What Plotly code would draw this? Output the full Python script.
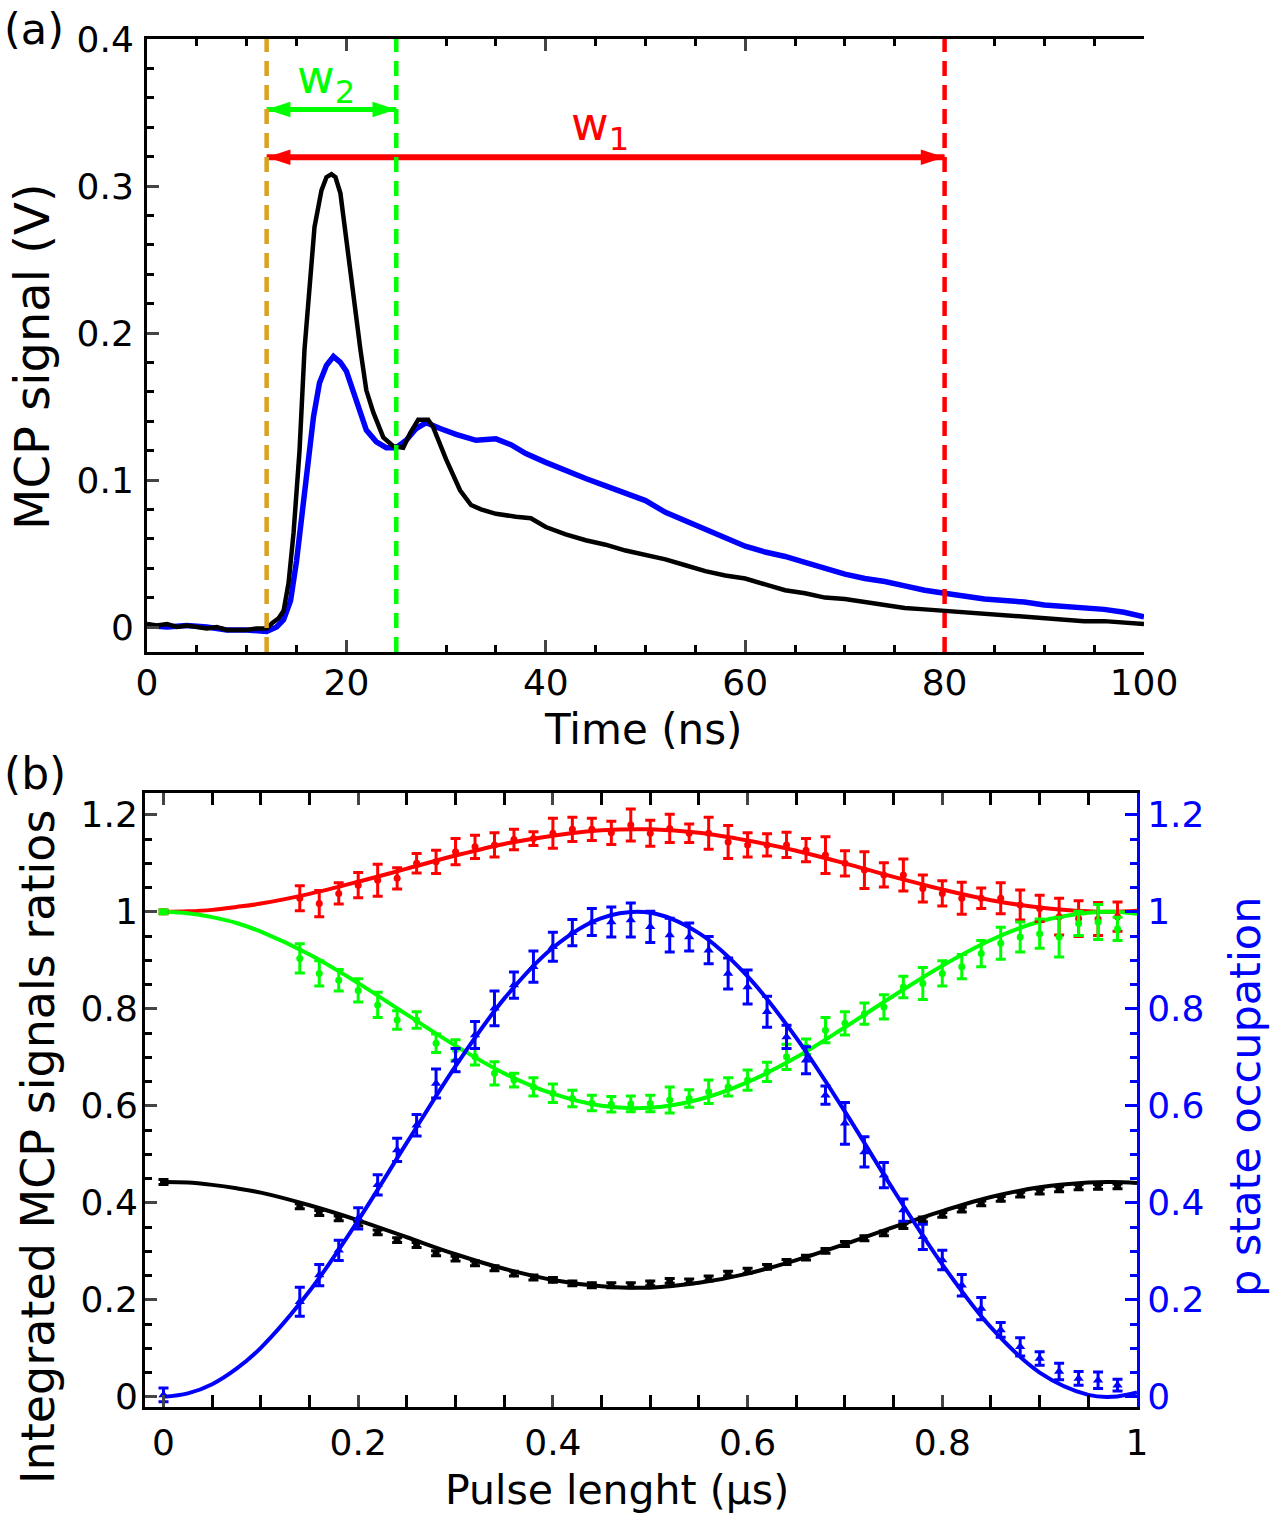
import plotly.graph_objects as go

# ---------------- Panel (a) data: MCP signal vs time ----------------
black_t = [0, 1, 2, 3, 4, 5, 6, 7, 8, 9, 10, 11, 12, 12.6, 13.2, 13.7, 14.2, 14.7, 15.3, 15.8,
           16.3, 16.8, 17.5, 18.0, 18.5, 18.9, 19.4, 19.9, 20.4, 20.9, 21.4, 22.0, 22.7, 23.7,
           24.7, 25.7, 26.4, 27.2, 28.2, 28.7, 30.0, 31.4, 32.5, 33.5, 35, 37, 38.5, 40, 42, 44,
           46, 48, 50, 52, 54, 56, 58, 60, 62, 64, 66, 68, 70, 72, 74, 76, 78, 80, 82, 84, 86,
           88, 90, 92, 94, 96, 98, 100]
black_v = [0.002, 0.001, 0.002, 0.000, 0.001, 0.000, -0.001, 0.000, -0.002, -0.002, -0.002,
           -0.001, -0.001, 0.003, 0.006, 0.011, 0.030, 0.064, 0.120, 0.189, 0.234, 0.272, 0.297,
           0.306, 0.308, 0.306, 0.295, 0.268, 0.238, 0.211, 0.189, 0.161, 0.146, 0.129, 0.123,
           0.122, 0.132, 0.141, 0.141, 0.136, 0.114, 0.093, 0.083, 0.080, 0.077, 0.075, 0.074,
           0.068, 0.063, 0.059, 0.056, 0.052, 0.049, 0.046, 0.042, 0.038, 0.035, 0.033, 0.029,
           0.025, 0.023, 0.020, 0.019, 0.017, 0.015, 0.013, 0.012, 0.011, 0.010, 0.009, 0.008,
           0.007, 0.006, 0.005, 0.004, 0.004, 0.003, 0.002]

blue_t = [0, 2, 4, 6, 8, 10, 12, 13.0, 13.7, 14.4, 15.0, 15.7, 16.2, 16.7, 17.3, 18.0, 18.7,
          19.4, 20.0, 20.7, 21.4, 22.0, 23.0, 24.0, 25.0, 26.0, 27.0, 28.0, 29.4, 31, 33, 35,
          36.5, 38, 40, 42, 44, 46, 48, 50, 52, 54, 56, 58, 60, 62, 64, 66, 68, 70, 72, 74, 76,
          78, 80, 82, 84, 86, 88, 90, 92, 94, 96, 98, 100]
blue_v = [0.001, 0.000, 0.001, 0.000, -0.002, -0.002, -0.003, 0.000, 0.005, 0.018, 0.045, 0.086,
          0.120, 0.143, 0.166, 0.178, 0.184, 0.180, 0.174, 0.159, 0.146, 0.134, 0.126, 0.122,
          0.122, 0.127, 0.135, 0.139, 0.135, 0.131, 0.127, 0.128, 0.124, 0.118, 0.112, 0.106,
          0.101, 0.096, 0.091, 0.086, 0.078, 0.072, 0.066, 0.060, 0.055, 0.051, 0.048, 0.044,
          0.040, 0.036, 0.033, 0.031, 0.028, 0.025, 0.023, 0.021, 0.019, 0.018, 0.017, 0.015,
          0.014, 0.013, 0.012, 0.010, 0.007]

gate_times = [12, 25, 80]
gate_colors = ["#DAA21E", "#00FF00", "#FF0000"]
w2_range = [12, 25]
w2_level = 0.352
w1_range = [12, 80]
w1_level = 0.3195

# ---------------- Panel (b) data: ratios vs pulse length ----------------
pulse_x = [0, 0.14, 0.16, 0.18, 0.20, 0.22, 0.24, 0.26, 0.28, 0.30, 0.32, 0.34, 0.36, 0.38,
           0.40, 0.42, 0.44, 0.46, 0.48, 0.50, 0.52, 0.54, 0.56, 0.58, 0.60, 0.62, 0.64, 0.66,
           0.68, 0.70, 0.72, 0.74, 0.76, 0.78, 0.80, 0.82, 0.84, 0.86, 0.88, 0.90, 0.92, 0.94,
           0.96, 0.98]
red_y = [1.000, 1.028, 1.017, 1.038, 1.055, 1.065, 1.069, 1.100, 1.103, 1.124, 1.134, 1.138,
         1.149, 1.151, 1.162, 1.170, 1.170, 1.163, 1.179, 1.162, 1.172, 1.162, 1.162, 1.144,
         1.138, 1.138, 1.138, 1.127, 1.117, 1.100, 1.086, 1.076, 1.076, 1.048, 1.038, 1.028,
         1.028, 1.028, 1.014, 1.007, 0.990, 0.986, 0.985, 0.990]
red_err = [0.004, 0.026, 0.027, 0.022, 0.026, 0.033, 0.022, 0.020, 0.024, 0.027, 0.024, 0.025,
           0.021, 0.014, 0.031, 0.025, 0.023, 0.024, 0.033, 0.027, 0.029, 0.019, 0.033, 0.034,
           0.025, 0.023, 0.026, 0.024, 0.038, 0.026, 0.038, 0.025, 0.033, 0.028, 0.026, 0.033,
           0.021, 0.032, 0.031, 0.027, 0.038, 0.037, 0.034, 0.030]
green_y = [1.000, 0.904, 0.873, 0.859, 0.838, 0.808, 0.777, 0.777, 0.729, 0.715, 0.701, 0.667,
           0.653, 0.639, 0.626, 0.615, 0.606, 0.603, 0.604, 0.605, 0.612, 0.615, 0.629, 0.639,
           0.653, 0.670, 0.701, 0.722, 0.756, 0.770, 0.790, 0.804, 0.845, 0.852, 0.873, 0.887,
           0.914, 0.935, 0.948, 0.955, 0.948, 0.976, 0.979, 0.965]
green_err = [0.004, 0.030, 0.026, 0.022, 0.024, 0.026, 0.019, 0.017, 0.019, 0.021, 0.017, 0.024,
             0.014, 0.019, 0.019, 0.017, 0.016, 0.016, 0.016, 0.017, 0.027, 0.018, 0.024, 0.019,
             0.021, 0.020, 0.026, 0.016, 0.026, 0.024, 0.022, 0.025, 0.022, 0.033, 0.026, 0.025,
             0.027, 0.033, 0.031, 0.030, 0.041, 0.025, 0.036, 0.024]
blue_y = [0.004, 0.196, 0.251, 0.302, 0.368, 0.437, 0.509, 0.560, 0.646, 0.694, 0.746, 0.801,
          0.849, 0.887, 0.928, 0.957, 0.979, 0.979, 0.983, 0.969, 0.952, 0.948, 0.921, 0.873,
          0.845, 0.794, 0.742, 0.694, 0.622, 0.564, 0.505, 0.457, 0.385, 0.330, 0.282, 0.230,
          0.182, 0.138, 0.103, 0.079, 0.052, 0.038, 0.034, 0.024]
blue_err = [0.014, 0.030, 0.022, 0.021, 0.022, 0.021, 0.024, 0.022, 0.030, 0.024, 0.028, 0.036,
            0.027, 0.032, 0.030, 0.027, 0.028, 0.031, 0.035, 0.032, 0.035, 0.029, 0.028, 0.032,
            0.035, 0.032, 0.024, 0.028, 0.019, 0.043, 0.031, 0.026, 0.023, 0.026, 0.020, 0.022,
            0.023, 0.015, 0.019, 0.014, 0.017, 0.014, 0.017, 0.012]
black_y = [0.443, 0.393, 0.379, 0.368, 0.357, 0.339, 0.323, 0.313, 0.296, 0.285, 0.275, 0.265,
           0.254, 0.246, 0.241, 0.234, 0.230, 0.230, 0.230, 0.234, 0.239, 0.238, 0.244, 0.254,
           0.260, 0.268, 0.278, 0.287, 0.301, 0.315, 0.327, 0.337, 0.352, 0.366, 0.375, 0.386,
           0.399, 0.408, 0.417, 0.423, 0.428, 0.432, 0.433, 0.434]
black_err = [0.005] * len(pulse_x)

fit_x = [0, 0.025, 0.05, 0.075, 0.10, 0.15, 0.20, 0.25, 0.30, 0.35, 0.40, 0.45, 0.50, 0.55,
         0.60, 0.65, 0.70, 0.75, 0.80, 0.85, 0.90, 0.95, 0.975, 1.0]
fit_blue = [0, 0.007, 0.026, 0.058, 0.101, 0.218, 0.364, 0.524, 0.682, 0.821, 0.926, 0.987,
            0.998, 0.956, 0.867, 0.740, 0.588, 0.426, 0.273, 0.143, 0.050, 0.004, 0.000, 0.009]
fit_red = [1.000, 1.001, 1.004, 1.010, 1.017, 1.037, 1.062, 1.089, 1.116, 1.140, 1.157, 1.168,
           1.170, 1.163, 1.147, 1.126, 1.100, 1.072, 1.046, 1.024, 1.009, 1.001, 1.000, 1.002]
fit_green = [1.000, 0.997, 0.989, 0.977, 0.959, 0.912, 0.853, 0.788, 0.724, 0.667, 0.625, 0.600,
             0.596, 0.613, 0.649, 0.700, 0.762, 0.827, 0.889, 0.942, 0.980, 0.998, 1.000, 0.996]
fit_black = [0.443, 0.442, 0.437, 0.430, 0.421, 0.395, 0.364, 0.329, 0.294, 0.264, 0.241, 0.228,
             0.225, 0.235, 0.254, 0.282, 0.315, 0.350, 0.383, 0.412, 0.432, 0.442, 0.443, 0.441]

FONT = "DejaVu Sans"
TICK = 36
RED, GREEN, BLUE, BLACK = "#FF0000", "#00FF00", "#0000FF", "#000000"

fig = go.Figure()

# ---- panel (a) curves
fig.add_trace(go.Scatter(x=blue_t, y=blue_v, mode="lines", line=dict(color=BLUE, width=5.5),
                         xaxis="x", yaxis="y", showlegend=False))
fig.add_trace(go.Scatter(x=black_t, y=black_v, mode="lines", line=dict(color=BLACK, width=4.5),
                         xaxis="x", yaxis="y", showlegend=False))

# ---- double arrows for the integration windows
for rng, lvl, col, lw in [(w2_range, w2_level, GREEN, 5), (w1_range, w1_level, RED, 6)]:
    fig.add_trace(go.Scatter(x=rng, y=[lvl, lvl], mode="lines+markers", xaxis="x", yaxis="y",
                             line=dict(color=col, width=lw),
                             marker=dict(symbol="arrow", size=25, color=col, angle=[-90, 90],
                                         line=dict(width=0)),
                             showlegend=False, cliponaxis=False))

# ---- panel (b) fits and data
for fy, col in [(fit_black, BLACK), (fit_red, RED), (fit_green, GREEN)]:
    fig.add_trace(go.Scatter(x=fit_x, y=fy, mode="lines", line=dict(color=col, width=4, shape="spline"),
                             xaxis="x2", yaxis="y3", showlegend=False))
for yy, ee, col in [(black_y, black_err, BLACK), (red_y, red_err, RED), (green_y, green_err, GREEN)]:
    fig.add_trace(go.Scatter(x=pulse_x, y=yy, mode="markers",
                             marker=dict(color=col, size=7, symbol="circle"),
                             error_y=dict(type="data", array=ee, color=col, thickness=3, width=5),
                             xaxis="x2", yaxis="y3", showlegend=False))
fig.add_trace(go.Scatter(x=fit_x, y=fit_blue, mode="lines", line=dict(color=BLUE, width=4, shape="spline"),
                         xaxis="x2", yaxis="y4", showlegend=False))
fig.add_trace(go.Scatter(x=pulse_x, y=blue_y, mode="markers",
                         marker=dict(color=BLUE, size=9, symbol="triangle-up"),
                         error_y=dict(type="data", array=blue_err, color=BLUE, thickness=3, width=5),
                         xaxis="x2", yaxis="y4", showlegend=False))

W, H = 1284, 1517
def px(x):
    return x / W
def py(y):
    return 1 - y / H

ax_common = dict(showline=True, linewidth=3, ticks="inside", tickwidth=3, ticklen=12,
                 showgrid=False, zeroline=False, automargin=False,
                 tickfont=dict(family=FONT, size=TICK, color=BLACK))

top_y_range = [-0.017, 0.4]
bot_y_range = [-0.021, 1.245]

fig.update_layout(
    template="none",
    width=W, height=H, margin=dict(l=0, r=0, t=0, b=0, autoexpand=False),
    paper_bgcolor="white", plot_bgcolor="white",
    font=dict(family=FONT, color=BLACK),
    xaxis=dict(domain=[px(147), px(1144)], anchor="y", range=[0, 100], dtick=20, tick0=0,
               linecolor=BLACK, mirror="allticks",
               minor=dict(ticks="inside", ticklen=7, tickwidth=3, dtick=5, tickcolor=BLACK),
               ticklabelstandoff=-3, **ax_common),
    yaxis=dict(domain=[py(652), py(39)], anchor="x", range=top_y_range, dtick=0.1, tick0=0,
               linecolor=BLACK,
               minor=dict(ticks="inside", ticklen=7, tickwidth=3, dtick=0.02, tickcolor=BLACK),
               ticklabelstandoff=3, **ax_common),
    yaxis2=dict(overlaying="y", anchor="x", side="right", range=top_y_range, dtick=0.1, tick0=0,
                linecolor=BLACK,
                minor=dict(ticks="inside", ticklen=7, tickwidth=3, dtick=0.02, tickcolor=BLACK),
                ticklabelstandoff=5, **ax_common),
    xaxis2=dict(domain=[px(145), px(1137)], anchor="y3", range=[-0.019, 1.0], dtick=0.2, tick0=0,
                linecolor=BLACK, mirror="allticks",
                minor=dict(ticks="inside", ticklen=7, tickwidth=3, dtick=0.05, tickcolor=BLACK),
                ticklabelstandoff=2, **ax_common),
    yaxis3=dict(domain=[py(1407), py(793)], anchor="x2", range=bot_y_range, dtick=0.2, tick0=0,
                linecolor=BLACK,
                minor=dict(ticks="inside", ticklen=7, tickwidth=3, dtick=0.05, tickcolor=BLACK),
                ticklabelstandoff=-3, **ax_common),
)
ax4 = dict(ax_common)
ax4["tickfont"] = dict(family=FONT, size=TICK, color=BLUE)
fig.update_layout(
    yaxis4=dict(overlaying="y3", anchor="x2", side="right", range=bot_y_range, dtick=0.2, tick0=0,
                linecolor=BLUE, tickcolor=BLUE,
                minor=dict(ticks="inside", ticklen=7, tickwidth=3, dtick=0.05, tickcolor=BLUE),
                ticklabelstandoff=0, **ax4),
)

# gate lines (dashed)
for t, c in zip(gate_times, gate_colors):
    fig.add_shape(type="line", xref="x", yref="y", x0=t, x1=t, y0=top_y_range[0], y1=top_y_range[1],
                  line=dict(color=c, width=4.5, dash="15px,9px"), layer="above")

fig.add_annotation(xref="x", yref="y", x=18.0, y=0.372, text="w<sub>2</sub>", showarrow=False,
                   font=dict(family=FONT, size=46, color=GREEN))
fig.add_annotation(xref="x", yref="y", x=45.4, y=0.340, text="w<sub>1</sub>", showarrow=False,
                   font=dict(family=FONT, size=46, color=RED))

# labels & titles
def note(text, x, y, size, color=BLACK, angle=0):
    fig.add_annotation(xref="paper", yref="paper", x=px(x), y=py(y), text=text, showarrow=False,
                       textangle=angle, xanchor="center", yanchor="middle",
                       font=dict(family=FONT, size=size, color=color))

note("(a)", 34, 29, 43)
note("(b)", 35, 773, 44)
note("MCP signal (V)", 32, 357, 48, angle=-90)
note("Time (ns)", 643, 729, 42)
note("Integrated MCP signals ratios", 38, 1147, 46, angle=-90)
note("Pulse lenght (µs)", 617, 1490, 41)
note("p state occupation", 1245, 1097, 43, color=BLUE, angle=-90)

fig.write_html("out.html")
